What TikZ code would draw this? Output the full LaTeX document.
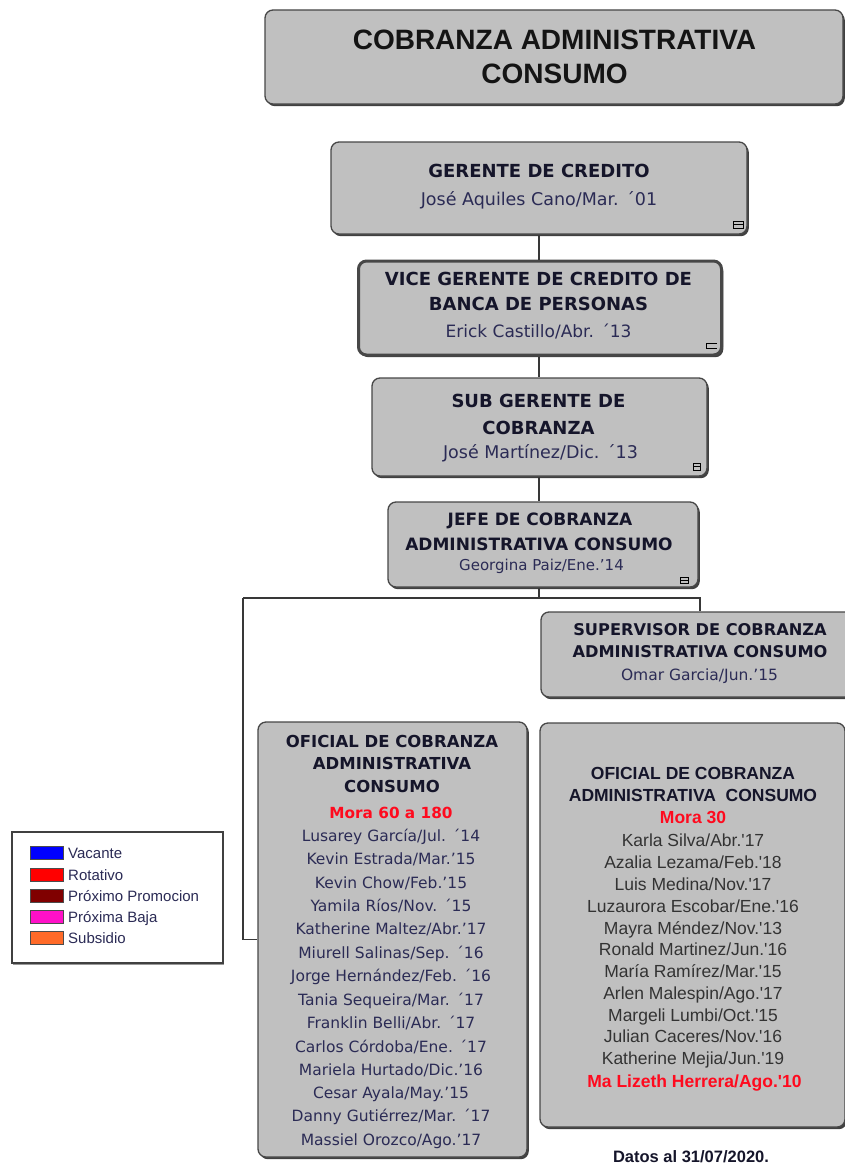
\documentclass[tikz,border=0pt]{standalone}
\usepackage{fontspec}
\setmainfont{DejaVu Sans}
\newfontfamily\arial{Liberation Sans}
\usetikzlibrary{shadows}
\definecolor{boxgray}{HTML}{C0C0C0}
\definecolor{namecol}{HTML}{2B2B55}
\definecolor{titcol}{HTML}{15152A}
\definecolor{rgray}{HTML}{333333}
\definecolor{mred}{HTML}{FF0A1E}
\definecolor{legpink}{HTML}{FF10C8}
\definecolor{legorange}{HTML}{FF6A28}
\definecolor{legdark}{HTML}{800000}
\newcommand\fsz[1]{\fontsize{#1}{#1}\selectfont}
\begin{document}
\begin{tikzpicture}[x=1pt,y=-1pt,
  box/.style={draw=black!72, line width=1.3pt, fill=boxgray, rounded corners=8pt, inner sep=0pt,
    drop shadow={shadow xshift=1.8pt, shadow yshift=-2.2pt, fill=black!75, opacity=1}},
  tx/.style={anchor=base, inner sep=0pt},
  ttl/.style={tx, font=\bfseries\fsz{18}, text=titcol},
  nm/.style={tx, font=\fsz{17.5}, text=namecol},
  ltl/.style={tx, font=\bfseries\fsz{16.5}, text=titcol},
  lnm/.style={tx, font=\fsz{15.5}, text=namecol},
  rtl/.style={tx, font=\arial\bfseries\fsz{17.5}, text=titcol},
  rnm/.style={tx, font=\arial\fsz{17.5}, text=rgray},
  conn/.style={draw=black!78, line width=1.3pt},
  mk/.style={draw=black, line width=1pt},
  sw/.style={draw=black!70, line width=1pt, minimum width=33pt, minimum height=13pt, inner sep=0pt},
  lg/.style={anchor=base west, inner sep=0pt, font=\arial\fsz{15}, text=namecol}]
\useasboundingbox (0,0) rectangle (845,1164);
\clip (0,0) rectangle (845,1164);

% ---------- boxes ----------
\node[box, minimum width=578pt, minimum height=94pt] (title) at (554,57) {};
\node[box, minimum width=416pt, minimum height=92pt] (ger) at (539,188) {};
\node[box, line width=3pt, minimum width=363pt, minimum height=94pt] (vice) at (540,308) {};
\node[box, minimum width=335pt, minimum height=98pt] (sub) at (539.5,427) {};
\node[box, minimum width=310pt, minimum height=85pt] (jefe) at (543,544.5) {};
\node[box, minimum width=329pt, minimum height=85pt] (sup) at (705.5,654.5) {};
\node[box, minimum width=269pt, minimum height=435pt] (of1) at (392.5,939.5) {};
\node[box, minimum width=305pt, minimum height=404pt] (of2) at (692.5,925) {};

% ---------- connectors ----------
\coordinate (busL) at (243,598);
\coordinate (busM) at (539,598);
\coordinate (busR) at (700,598);
\draw[conn] (ger.south) -- (ger.south |- vice.north);
\draw[conn] (vice.south -| ger.south) -- (ger.south |- sub.north);
\draw[conn] (sub.south -| ger.south) -- (ger.south |- jefe.north);
\draw[conn] (jefe.south -| busM) -- (busM);
\draw[conn] (busL) -- (busR) -- (busR |- sup.north);
\draw[conn] (busL) -- (busL |- of1.west) -- (of1.west);

% ---------- texts ----------
\node[tx, font=\arial\bfseries\fsz{28}, text=black!92] (t1) at (554.5,49) {COBRANZA ADMINISTRATIVA};
\node[tx, font=\arial\bfseries\fsz{28}, text=black!92] (t2) at (554.5,83) {CONSUMO};

\node[ttl] (g1) at (539,177) {GERENTE DE CREDITO};
\node[nm] (g2) at (539,205) {José Aquiles Cano/Mar. ´01};

\node[ttl] (v1) at (538.5,285) {VICE GERENTE DE CREDITO DE};
\node[ttl] (v2) at (538.5,310) {BANCA DE PERSONAS};
\node[nm, font=\fsz{17}] (v3) at (538.5,337) {Erick Castillo/Abr. ´13};

\node[ttl] (s1) at (538.5,407) {SUB GERENTE DE};
\node[ttl] (s2) at (538.5,434) {COBRANZA};
\node[nm] (s3) at (540.5,458) {José Martínez/Dic. ´13};

\node[ttl, font=\bfseries\fsz{17}] (j1) at (540,525) {JEFE DE COBRANZA};
\node[ttl, font=\bfseries\fsz{17}] (j2) at (539,550) {ADMINISTRATIVA CONSUMO};
\node[nm, font=\fsz{15}] (j3) at (541.5,570) {Georgina Paiz/Ene.'14};

\node[ttl, font=\bfseries\fsz{16.2}] (p1) at (700,635) {SUPERVISOR DE COBRANZA};
\node[ttl, font=\bfseries\fsz{16.2}] (p2) at (700,657) {ADMINISTRATIVA CONSUMO};
\node[nm, font=\fsz{15.5}] (p3) at (699.5,680) {Omar Garcia/Jun.'15};

% left officer box
\node[ltl] (a1) at (392,747) {OFICIAL DE COBRANZA};
\node[ltl] (a2) at (392,769) {ADMINISTRATIVA};
\node[ltl] (a3) at (392,792) {CONSUMO};
\node[tx, font=\bfseries\fsz{15.3}, text=mred] (a4) at (391,818) {Mora 60 a 180};
\node[lnm] (n1) at (391,841) {Lusarey García/Jul. ´14};
\node[lnm] (n2) at (391,864) {Kevin Estrada/Mar.'15};
\node[lnm] (n3) at (391,888) {Kevin Chow/Feb.'15};
\node[lnm] (n4) at (391,911) {Yamila Ríos/Nov. ´15};
\node[lnm] (n5) at (391,934) {Katherine Maltez/Abr.'17};
\node[lnm] (n6) at (391,958) {Miurell Salinas/Sep. ´16};
\node[lnm] (n7) at (391,981) {Jorge Hernández/Feb. ´16};
\node[lnm] (n8) at (391,1005) {Tania Sequeira/Mar. ´17};
\node[lnm] (n9) at (391,1028) {Franklin Belli/Abr. ´17};
\node[lnm] (n10) at (391,1052) {Carlos Córdoba/Ene. ´17};
\node[lnm] (n11) at (391,1075) {Mariela Hurtado/Dic.'16};
\node[lnm] (n12) at (391,1098) {Cesar Ayala/May.'15};
\node[lnm] (n13) at (391,1121) {Danny Gutiérrez/Mar. ´17};
\node[lnm] (n14) at (391,1145) {Massiel Orozco/Ago.'17};

% right officer box
\node[rtl] (b1) at (693,779) {OFICIAL DE COBRANZA};
\node[rtl] (b2) at (693,801) {ADMINISTRATIVA\ \ CONSUMO};
\node[rtl, text=mred] (b3) at (693,823) {Mora 30};
\node[rnm] (m1) at (693,846) {Karla Silva/Abr.'17};
\node[rnm] (m2) at (693,868) {Azalia Lezama/Feb.'18};
\node[rnm] (m3) at (693,890) {Luis Medina/Nov.'17};
\node[rnm] (m4) at (693,912) {Luzaurora Escobar/Ene.'16};
\node[rnm] (m5) at (693,934) {Mayra Méndez/Nov.'13};
\node[rnm] (m6) at (693,955) {Ronald Martinez/Jun.'16};
\node[rnm] (m7) at (693,977) {María Ramírez/Mar.'15};
\node[rnm] (m8) at (693,999) {Arlen Malespin/Ago.'17};
\node[rnm] (m9) at (693,1021) {Margeli Lumbi/Oct.'15};
\node[rnm] (m10) at (693,1042) {Julian Caceres/Nov.'16};
\node[rnm] (m11) at (693,1064) {Katherine Mejia/Jun.'19};
\node[rtl, text=mred] (m12) at (694.5,1087) {Ma Lizeth Herrera/Ago.'10};

\node[tx, font=\arial\bfseries\fsz{16.5}, text=titcol] (datos) at (691,1162) {Datos al 31/07/2020.};

% ---------- corner markers ----------
\draw[mk] (733,221) rectangle (743,228); \draw[mk] (733,224.5) -- (743,224.5);
\draw[mk] (717,343) -- (706,343) -- (706,348) -- (717,348);
\draw[mk] (693,463) rectangle (700,470); \draw[mk] (693,466.5) -- (700,466.5);
\draw[mk] (680,577) rectangle (688,583); \draw[mk] (680,580) -- (688,580);

% ---------- legend ----------
\node[draw=black!75, line width=1.3pt, fill=white, minimum width=211pt, minimum height=131pt, inner sep=0pt,
  drop shadow={shadow xshift=1.2pt, shadow yshift=-1.5pt, fill=black!40, opacity=1}] (leg) at (117.5,897.5) {};
\node[sw, fill=blue] (sw1) at (46.5,853) {};
\node[sw, fill=red] (sw2) at (46.5,875) {};
\node[sw, fill=legdark] (sw3) at (46.5,896) {};
\node[sw, fill=legpink] (sw4) at (46.5,917) {};
\node[sw, fill=legorange] (sw5) at (46.5,938) {};
\node[lg] (l1) at (68,858) {Vacante};
\node[lg] (l2) at (68,880) {Rotativo};
\node[lg] (l3) at (68,901) {Próximo Promocion};
\node[lg] (l4) at (68,922) {Próxima Baja};
\node[lg] (l5) at (68,943) {Subsidio};
\end{tikzpicture}
\end{document}
